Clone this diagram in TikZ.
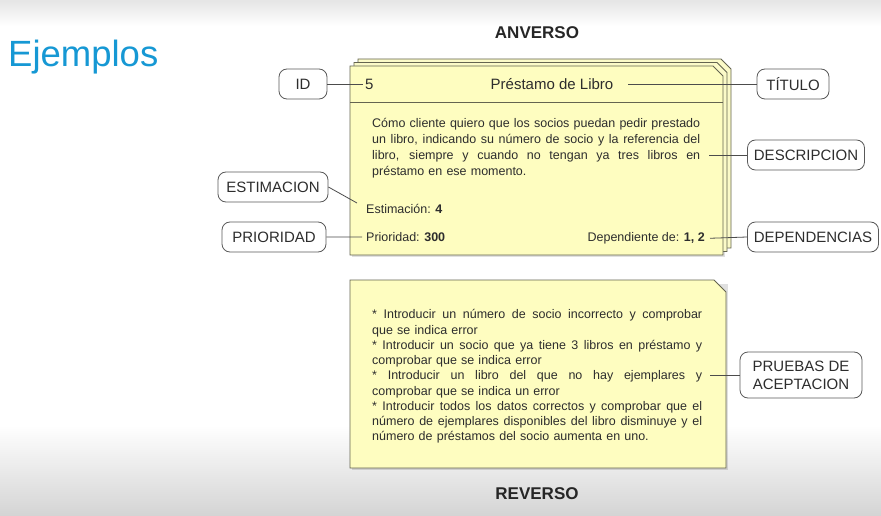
\documentclass[tikz,border=0pt]{standalone}
\usepackage{fontspec}
\setmainfont{Liberation Sans}
\definecolor{cardfill}{RGB}{254,253,192}
\definecolor{cardback}{RGB}{251,250,200}
\definecolor{cardline}{RGB}{100,100,80}
\definecolor{ejblue}{RGB}{22,152,212}
\definecolor{bggray}{RGB}{212,212,212}
\definecolor{txt}{RGB}{45,45,45}
\tikzset{
  lbl/.style={draw=black!65, line width=0.8pt, rounded corners=8pt, fill=white,
    font=\fontsize{15}{16}\selectfont, text=txt, inner xsep=6pt, inner ysep=2pt,
    minimum height=30pt, align=center},
  conn/.style={draw=black!70, line width=0.8pt},
  card/.style={draw=cardline, line width=0.9pt, fill=cardfill},
  ctext/.style={font=\fontsize{12.5}{16}\selectfont, text=txt, inner sep=0pt},
  head/.style={font=\fontsize{15}{16}\selectfont, text=txt, inner sep=2pt},
  big/.style={font=\bfseries\fontsize{17}{18}\selectfont, text=black!85},
}
\newcommand{\jlineA}[1]{{\spaceskip=\fontdimen2\font plus 1fil\relax\makebox[328pt][s]{#1}}}
\newcommand{\jlineB}[1]{{\spaceskip=\fontdimen2\font plus 1fil\relax\makebox[330pt][s]{#1}}}
\begin{document}
\begin{tikzpicture}[x=1pt,y=-1pt]
\useasboundingbox (0,0) rectangle (881,516);
% background
\fill[white] (0,0) rectangle (881,516);
\shade[top color=black!10, bottom color=white] (0,0) rectangle (881,26);
\shade[top color=white, bottom color=bggray] (0,425) rectangle (881,516);

% title
\node[anchor=base west, inner sep=0pt, text=ejblue, font=\fontsize{36.5}{40}\selectfont] (ej) at (8,67) {Ejemplos};
\node[big] (anv) at (537,33) {ANVERSO};
\node[big] (rev) at (537,494) {REVERSO};

% front card stack
\fill[black, opacity=0.12] (352,70) rectangle (725,257);
\path[card, fill=cardback] (358,59) -- (721,59) -- (731,69) -- (731,248) -- (358,248) -- cycle;
\path[card, fill=cardback] (354,62.5) -- (717,62.5) -- (727,72.5) -- (727,251.5) -- (354,251.5) -- cycle;
\path[card] (350,66) -- (713,66) -- (723,76) -- (723,255) -- (350,255) -- cycle;
\draw[cardline, line width=0.9pt] (350,102) -- (723,102);

\node[head, anchor=west] (num) at (363,84) {5};
\node[head] (tit) at (552,84) {Préstamo de Libro};

\node[ctext, anchor=north west, text width=328pt] (dtext) at (372,118) {%
\jlineA{Cómo cliente quiero que los socios puedan pedir prestado}\\
\jlineA{un libro, indicando su número de socio y la referencia del}\\
\jlineA{libro, siempre y cuando no tengan ya tres libros en}\\
préstamo en ese momento.};

\node[ctext, anchor=base west] (esttxt) at (366,213.5) {Estimación: \textbf{4}};
\node[ctext, anchor=base west] (pritxt) at (366,241.5) {Prioridad: \textbf{300}};
\node[ctext, anchor=base east] (deptxt) at (705,241.5) {Dependiente de: \textbf{1, 2}};

% back card
\fill[black, opacity=0.12] (352,284) rectangle (728,470);
\path[card] (350,280) -- (714,280) -- (726,292) -- (726,468) -- (350,468) -- cycle;
\node[ctext, font=\fontsize{12.5}{15.25}\selectfont, anchor=north west, text width=330pt] (rtext) at (372,309.5) {%
\jlineB{* Introducir un número de socio incorrecto y comprobar}\\
que se indica error\\
\jlineB{* Introducir un socio que ya tiene 3 libros en préstamo y}\\
comprobar que se indica error\\
\jlineB{* Introducir un libro del que no hay ejemplares y}\\
comprobar que se indica un error\\
\jlineB{* Introducir todos los datos correctos y comprobar que el}\\
\jlineB{número de ejemplares disponibles del libro disminuye y el}\\
número de préstamos del socio aumenta en uno.};

% labels
\node[lbl, minimum width=48pt] (ID) at (303,84) {ID};
\node[lbl, minimum width=72pt] (TIT) at (793,84) {TÍTULO};
\node[lbl, minimum width=117pt] (DES) at (806,155) {DESCRIPCION};
\node[lbl, minimum width=110pt] (EST) at (273,187) {ESTIMACION};
\node[lbl, minimum width=104pt] (PRI) at (274,237) {PRIORIDAD};
\node[lbl, minimum width=131pt] (DEP) at (813,237) {DEPENDENCIAS};
\node[lbl, minimum width=122pt, minimum height=46pt, font=\fontsize{15}{18}\selectfont] (PRU) at (801,375) {PRUEBAS DE\\ACEPTACION};

% connectors
\coordinate (tstart) at (628,84);
\coordinate (dstart) at (709,155);
\coordinate (estc) at (357,203);
\coordinate (pstart) at (710,375);
\draw[conn] (ID.east) -- (num.west);
\draw[conn] (tstart) -- (TIT.west);
\draw[conn] (dstart) -- (DES.west);
\draw[conn] (EST.east) -- (estc);
\draw[conn] (PRI.east) -- ([xshift=-4pt]pritxt.west);
\draw[conn] ([xshift=5pt]deptxt.east) -- (DEP.west);
\draw[conn] (pstart) -- (PRU.west);
\end{tikzpicture}
\end{document}
